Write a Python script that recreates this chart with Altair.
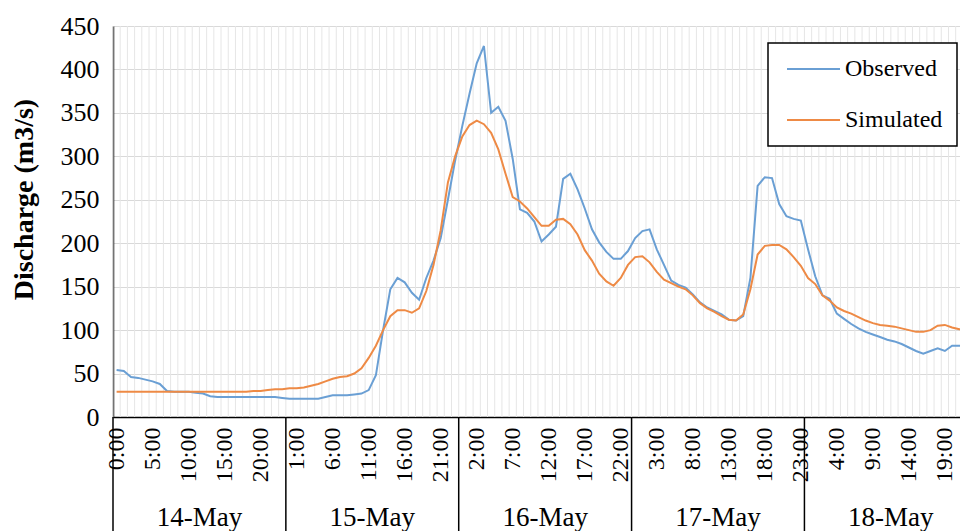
import altair as alt
import pandas as pd

FONT = "Liberation Serif"

hours = list(range(120))

observed = [
    54, 53, 46, 45, 43, 41, 38, 30, 29, 29,
    29, 28, 27, 24, 23, 23, 23, 23, 23, 23,
    23, 23, 23, 22, 21, 21, 21, 21, 21, 23,
    25, 25, 25, 26, 27, 31, 48, 100, 147, 160,
    155, 143, 135, 160, 180, 206, 250, 295, 335, 372,
    407, 427, 350, 357, 341, 297, 239, 235, 225, 202,
    210, 219, 274, 280, 262, 240, 216, 201, 190, 182,
    182, 191, 206, 214, 216, 193, 175, 157, 152, 149,
    141, 132, 126, 122, 118, 112, 111, 116, 160, 266,
    276, 275, 245, 231, 228, 226, 193, 162, 140, 136,
    119, 113, 107, 102, 98, 95, 92, 89, 87, 84,
    80, 76, 73, 76, 79, 76, 82, 82, 82, 83,
]

simulated = [
    29, 29, 29, 29, 29, 29, 29, 29, 29, 29,
    29, 29, 29, 29, 29, 29, 29, 29, 29, 30,
    30, 31, 32, 32, 33, 33, 34, 36, 38, 41,
    44, 46, 47, 50, 56, 68, 82, 100, 116, 123,
    123, 120, 125, 145, 175, 215, 270, 300, 323, 336,
    341, 337, 327, 308, 280, 253, 248, 240, 230, 220,
    220, 227, 228, 222, 210, 192, 180, 165, 156, 151,
    160, 175, 184, 185, 178, 167, 158, 154, 150, 147,
    140, 131, 125, 121, 116, 112, 111, 118, 147, 187,
    197, 198, 198, 193, 184, 174, 160, 153, 140, 134,
    126, 122, 119, 115, 111, 108, 106, 105, 104, 102,
    100, 98, 98, 100, 105, 106, 103, 101, 100, 99,
]

series_names = ["Observed", "Simulated"]
series_colors = ["#6A9FD4", "#EE8A45"]

day_names = ["14-May", "15-May", "16-May", "17-May", "18-May"]
day_centers = [11.5, 35.5, 59.5, 83.5, 107.5]
day_bounds = [-0.5, 23.5, 47.5, 71.5, 95.5]
label_hours = list(range(0, 120, 5))
y_ticks = list(range(0, 451, 50))
grid_hours = [h - 0.5 for h in range(0, 118)]

X_DOMAIN = [-0.5, 117.1]

df = pd.DataFrame({
    "hour": hours * 2,
    "value": observed + simulated,
    "series": [series_names[0]] * len(hours) + [series_names[1]] * len(hours),
})
df_grid = pd.DataFrame({"g": grid_hours})
df_sep = pd.DataFrame({"b": day_bounds})
df_days = pd.DataFrame({"c": day_centers, "d": day_names})

xscale = alt.Scale(domain=X_DOMAIN, nice=False, zero=False)

x_axis = alt.Axis(
    values=label_hours,
    labelExpr="(datum.value % 24) + ':00'",
    labelAngle=-90,
    labelFont=FONT,
    labelFontSize=24,
    labelColor="black",
    labelPadding=10,
    labelOverlap=False,
    labelFlush=False,
    ticks=False,
    grid=False,
    domainColor="black",
    domainWidth=1.5,
    title=None,
)

y_axis = alt.Axis(
    values=y_ticks,
    labelFont=FONT,
    labelFontSize=26,
    labelColor="black",
    labelPadding=14,
    ticks=False,
    grid=True,
    gridColor="#d9d9d9",
    gridWidth=1,
    domainColor="black",
    domainWidth=1.5,
    title="Discharge (m3/s)",
    titleFont=FONT,
    titleFontSize=28,
    titleFontWeight="bold",
    titleColor="black",
    titleX=-89,
    titleY=173,
    titleAlign="center",
    titleBaseline="middle",
)

grid = alt.Chart(df_grid).mark_rule(color="#e6e6e6", strokeWidth=1).encode(
    x=alt.X("g:Q", scale=xscale, axis=x_axis)
)

lines = alt.Chart(df).mark_line(strokeWidth=2, clip=True).encode(
    x=alt.X("hour:Q", scale=xscale, axis=x_axis),
    y=alt.Y("value:Q", scale=alt.Scale(domain=[0, 450], nice=False), axis=y_axis),
    color=alt.Color(
        "series:N",
        scale=alt.Scale(domain=series_names, range=series_colors),
        legend=alt.Legend(
            title=None,
            orient="none",
            legendX=655,
            legendY=17,
            strokeColor="black",
            fillColor="white",
            padding=14,
            symbolType="M-2.65,0H2.65",
            symbolSize=400,
            symbolStrokeWidth=2,
            symbolOffset=19.5,
            labelOffset=19.5,
            labelFont=FONT,
            labelFontSize=24,
            labelColor="black",
            rowPadding=27,
        ),
    ),
)

seps = alt.Chart(df_sep).mark_rule(color="black", strokeWidth=1.5).encode(
    x=alt.X("b:Q", scale=xscale, axis=x_axis),
    y=alt.value(391),
    y2=alt.value(505),
)

days = alt.Chart(df_days).mark_text(
    font=FONT, fontSize=27, baseline="alphabetic", align="center", color="black"
).encode(
    x=alt.X("c:Q", scale=xscale, axis=x_axis),
    y=alt.value(500),
    text="d:N",
)

chart = (
    alt.layer(grid, lines, seps, days)
    .properties(
        width=847,
        height=391,
        autosize=alt.AutoSizeParams(type="none"),
        padding={"left": 105, "top": 18, "right": 0, "bottom": 114},
        background="white",
    )
    .configure_view(stroke=None)
    .configure_legend(strokeWidth=1.5)
)

chart.save("out.html", embed_options={"renderer": "svg", "actions": False})
